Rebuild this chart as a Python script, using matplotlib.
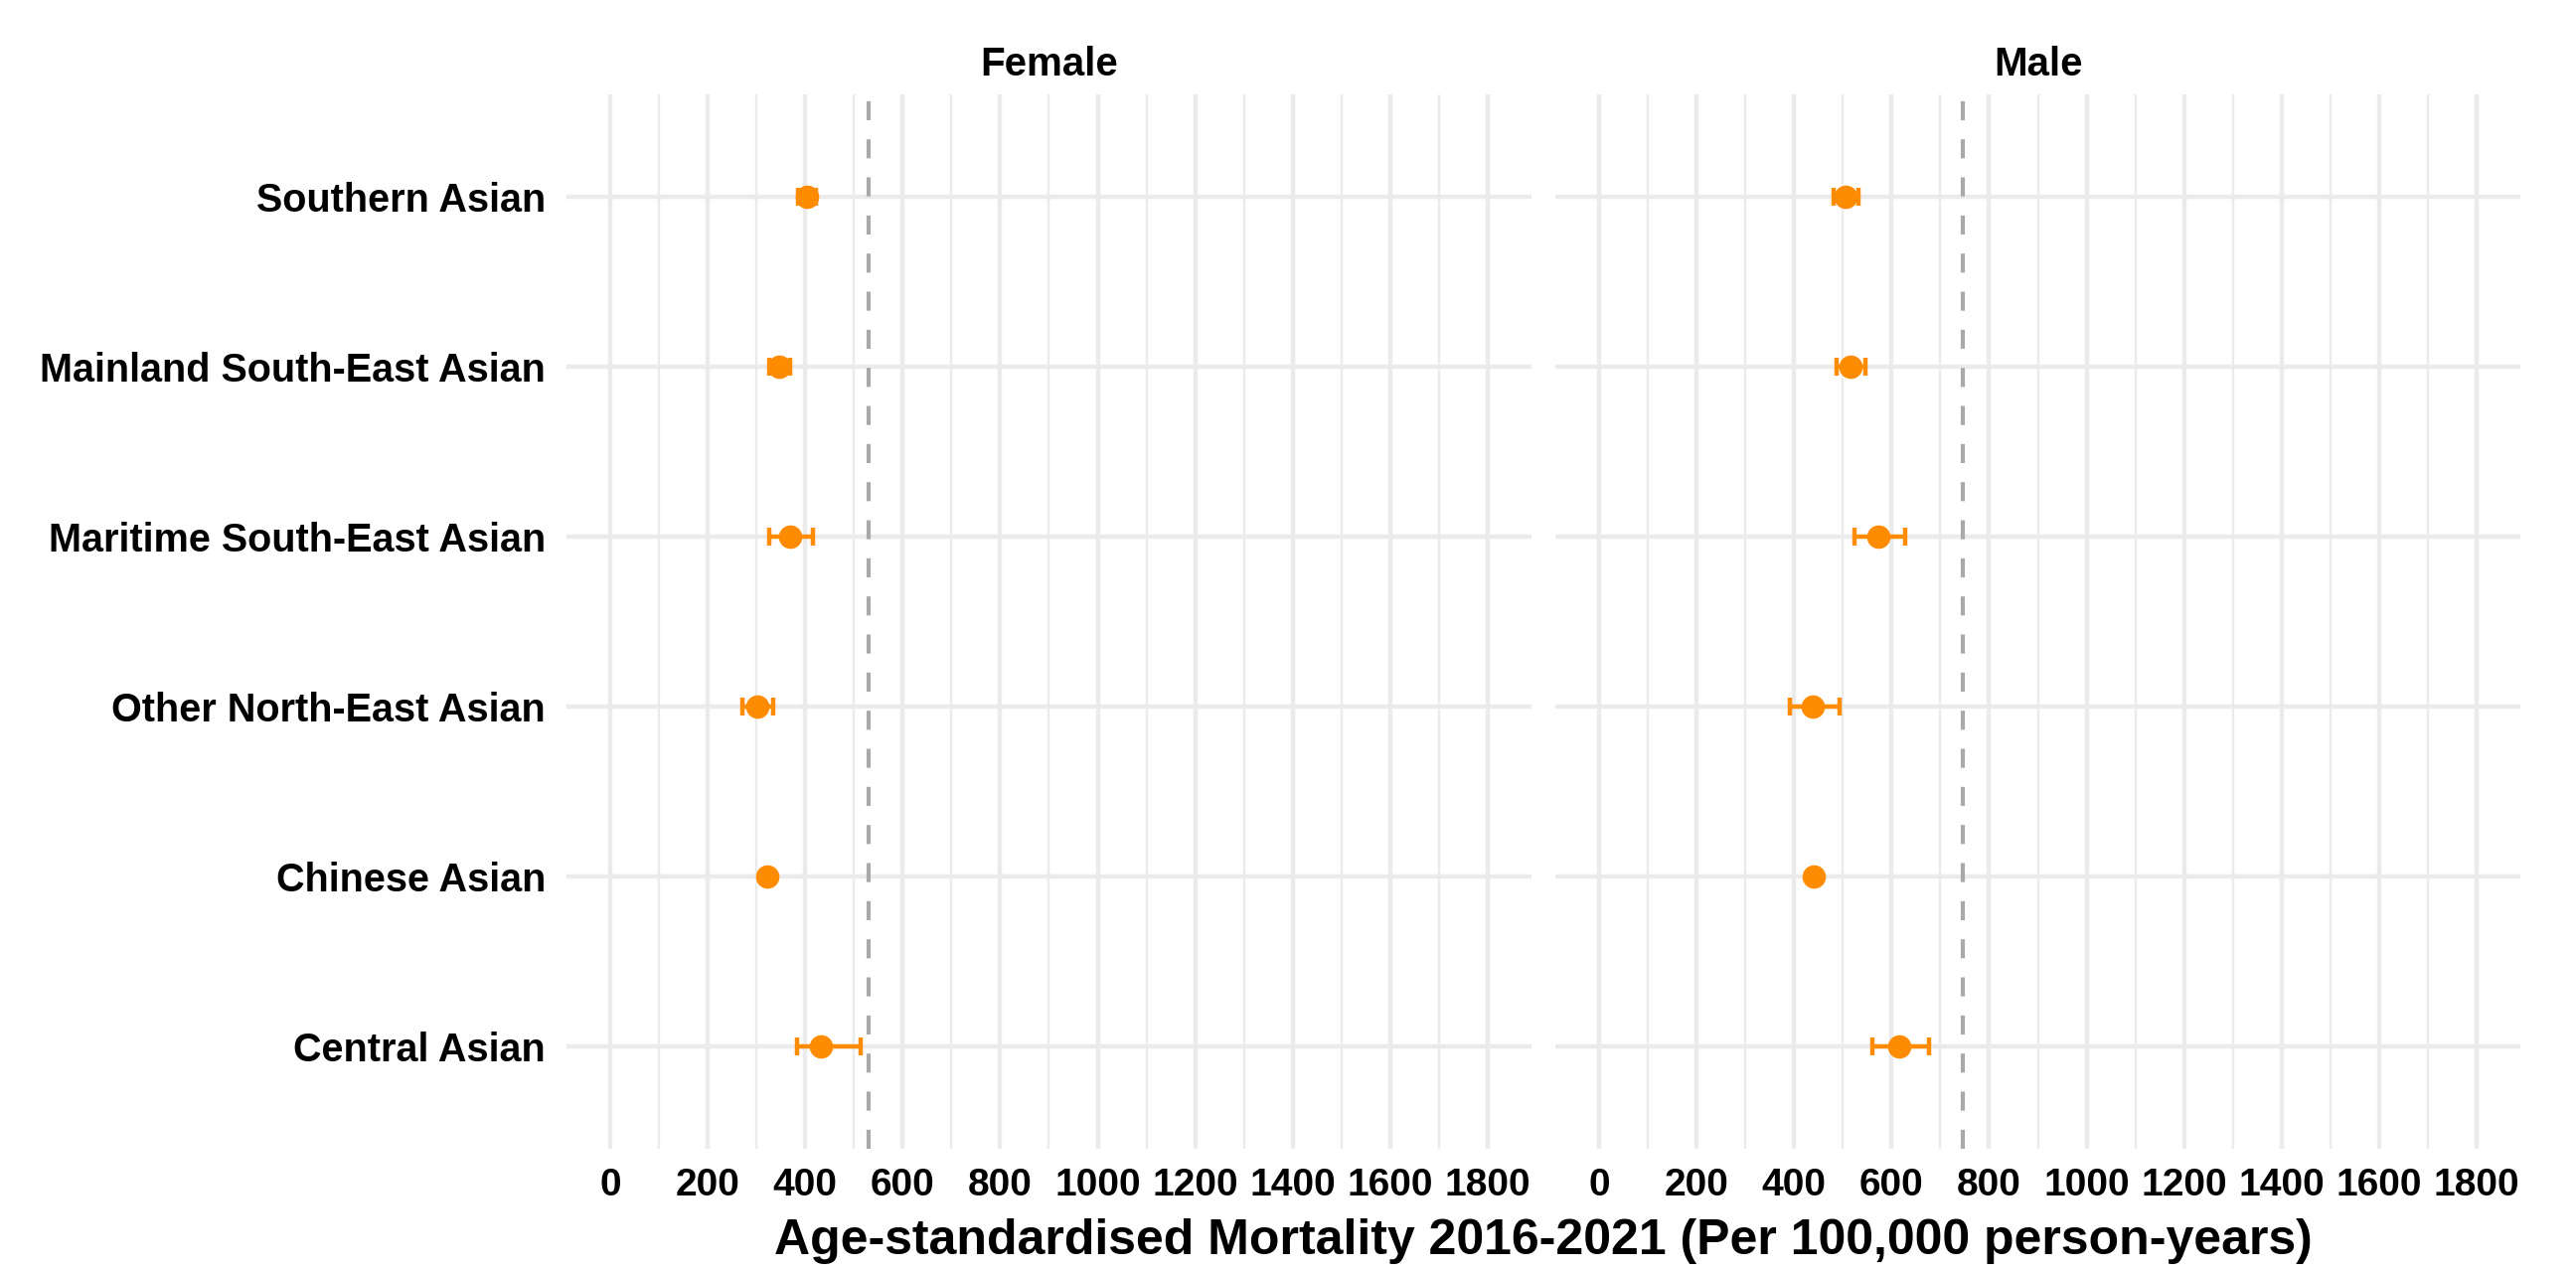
import matplotlib
matplotlib.use("Agg")
import matplotlib.pyplot as plt
import numpy as np

plt.rcParams['font.family'] = ['Liberation Sans', 'DejaVu Sans']
plt.rcParams['font.weight'] = 'bold'

groups = ["Central Asian", "Chinese Asian", "Other North-East Asian",
          "Maritime South-East Asian", "Mainland South-East Asian", "Southern Asian"]
sexes = ["Female", "Male"]

# estimates and 95% CI, same order as groups
female_est = [433, 322, 302, 368, 347, 403]
female_lo = [383, 314, 271, 327, 327, 385]
female_hi = [513, 330, 335, 416, 368, 422]
male_est = [616, 440, 439, 573, 515, 505]
male_lo = [560, 432, 392, 524, 487, 481]
male_hi = [677, 448, 493, 628, 546, 532]
ref_line = [530, 746]

x_ticks = [0, 200, 400, 600, 800, 1000, 1200, 1400, 1600, 1800]
x_title = "Age-standardised Mortality 2016-2021 (Per 100,000 person-years)"

est = [female_est, male_est]
lo = [female_lo, male_lo]
hi = [female_hi, male_hi]

fig = plt.figure(figsize=(25.92, 12.8), dpi=100)
bottom, top = 0.0969, 0.9258
panels = [(0.2199, 0.5945), (0.6038, 0.9784)]
orange = "#FF8C00"
grid_c = "#EBEBEB"

y = np.arange(len(groups))
for k, (x0, x1) in enumerate(panels):
    ax = fig.add_axes([x0, bottom, x1 - x0, top - bottom])
    ax.set_xlim(-90, 1890)
    ax.set_ylim(-0.6, len(groups) - 1 + 0.6)
    for s in ax.spines.values():
        s.set_visible(False)
    ax.set_xticks(x_ticks)
    ax.set_xticks([100, 300, 500, 700, 900, 1100, 1300, 1500, 1700], minor=True)
    ax.set_yticks(y)
    ax.grid(True, which='major', color=grid_c, lw=3.2)
    ax.grid(True, which='minor', axis='x', color=grid_c, lw=1.7)
    ax.set_axisbelow(True)
    ax.tick_params(which='both', length=0)
    ax.tick_params(axis='x', labelsize=28, pad=14)
    if k == 0:
        ax.set_yticklabels(groups, fontsize=28.5, fontweight='bold')
        ax.tick_params(axis='y', pad=15)
    else:
        ax.set_yticklabels([])
    for t in ax.get_xticklabels():
        t.set_fontweight('bold')
    ax.axvline(ref_line[k], color="#A9A9A9", lw=3, dashes=(4.6, 4.6), zorder=2)
    e = np.array(est[k])
    err = [e - np.array(lo[k]), np.array(hi[k]) - e]
    ax.errorbar(e, y, xerr=err, fmt='o', color=orange, ms=16, elinewidth=3.2,
                capsize=6.5, capthick=3.2, zorder=3)
    ax.set_title(sexes[k], fontsize=29, fontweight='bold', pad=14)

fig.text(0.599, 0.0245, x_title, ha='center', va='center', fontsize=36, fontweight='bold')

fig.savefig("out.png", dpi=100)
